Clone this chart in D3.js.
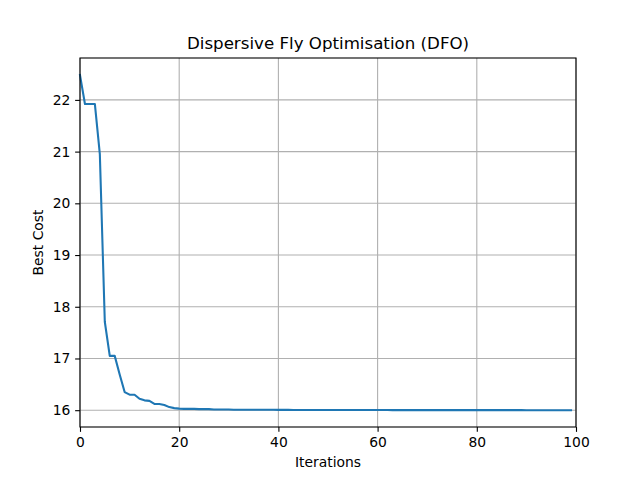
<!DOCTYPE html>
<html><head><meta charset="utf-8">
<script src="https://cdn.jsdelivr.net/npm/d3@7"></script>
<style>body{margin:0;background:#fff}svg{display:block}text{font-family:"DejaVu Sans",sans-serif}</style>
</head><body><svg id="c" width="640" height="480"></svg>
<script>
const title = "Dispersive Fly Optimisation (DFO)";
const xLabel = "Iterations";
const yLabel = "Best Cost";
const xTicks = [0, 20, 40, 60, 80, 100];
const yTicks = [16, 17, 18, 19, 20, 21, 22];
const bestCost = [
 22.48, 21.92, 21.92, 21.92, 20.95, 17.71, 17.05, 17.05, 16.69, 16.35,
 16.30, 16.30, 16.22, 16.19, 16.18, 16.12, 16.12, 16.10, 16.06, 16.04,
 16.03, 16.025, 16.025, 16.025, 16.02, 16.02, 16.02, 16.015, 16.012, 16.012,
 16.012, 16.01, 16.01, 16.01, 16.01, 16.01, 16.008, 16.008, 16.008, 16.007,
 16.006, 16.006, 16.006, 16.005, 16.005, 16.005, 16.005, 16.005, 16.005, 16.004,
 16.004, 16.004, 16.004, 16.004, 16.004, 16.003, 16.003, 16.003, 16.003, 16.003,
 16.003, 16.003, 16.003, 16.002, 16.002, 16.002, 16.002, 16.002, 16.002, 16.002,
 16.002, 16.002, 16.002, 16.002, 16.002, 16.001, 16.001, 16.001, 16.001, 16.001,
 16.001, 16.001, 16.001, 16.001, 16.001, 16.001, 16.001, 16.001, 16.001, 16.001,
 16.0, 16.0, 16.0, 16.0, 16.0, 16.0, 16.0, 16.0, 16.0, 16.0
];
const iters = bestCost.map((d, i) => i);

const L = 80, R = 576, T = 58, B = 427;
const svg = d3.select("#c");
const x = d3.scaleLinear().domain([0, 100]).range([L, R]);
const y = d3.scaleLinear().domain([15.675, 22.81]).range([B, T]);

// grid
svg.append("g").selectAll("line").data(xTicks).join("line")
  .attr("x1", d => x(d)).attr("x2", d => x(d)).attr("y1", T).attr("y2", B)
  .attr("stroke", "#b0b0b0").attr("stroke-width", 1.1);
svg.append("g").selectAll("line").data(yTicks).join("line")
  .attr("x1", L).attr("x2", R).attr("y1", d => y(d)).attr("y2", d => y(d))
  .attr("stroke", "#b0b0b0").attr("stroke-width", 1.1);

// line
svg.append("path").datum(iters)
  .attr("fill", "none").attr("stroke", "#1f77b4").attr("stroke-width", 2.08)
  .attr("stroke-linejoin", "round").attr("stroke-linecap", "square")
  .attr("d", d3.line().x(i => x(i)).y(i => y(bestCost[i])));

// axes
const xa = svg.append("g").attr("transform", `translate(0,${B})`)
  .call(d3.axisBottom(x).tickValues(xTicks).tickSize(4.86).tickPadding(4.86).tickFormat(d3.format("d")));
const ya = svg.append("g").attr("transform", `translate(${L},0)`)
  .call(d3.axisLeft(y).tickValues(yTicks).tickSize(4.86).tickPadding(4.86).tickFormat(d3.format("d")));
[xa, ya].forEach(a => {
  a.select(".domain").remove();
  a.selectAll("text").attr("font-size", "13.89px").attr("fill", "#000").attr("font-family", "DejaVu Sans");
  a.selectAll("line").attr("stroke", "#000").attr("stroke-width", 1.1);
});
svg.append("rect").attr("x", L).attr("y", T).attr("width", R - L).attr("height", B - T)
  .attr("fill", "none").attr("stroke", "#000").attr("stroke-width", 1.1);

svg.append("text").attr("x", (L + R) / 2).attr("y", 49).attr("text-anchor", "middle")
  .attr("font-size", "16.67px").text(title);
svg.append("text").attr("x", (L + R) / 2).attr("y", 467).attr("text-anchor", "middle")
  .attr("font-size", "13.89px").text(xLabel);
svg.append("text").attr("transform", `translate(43,${(T + B) / 2}) rotate(-90)`).attr("text-anchor", "middle")
  .attr("font-size", "13.89px").text(yLabel);
</script></body></html>
